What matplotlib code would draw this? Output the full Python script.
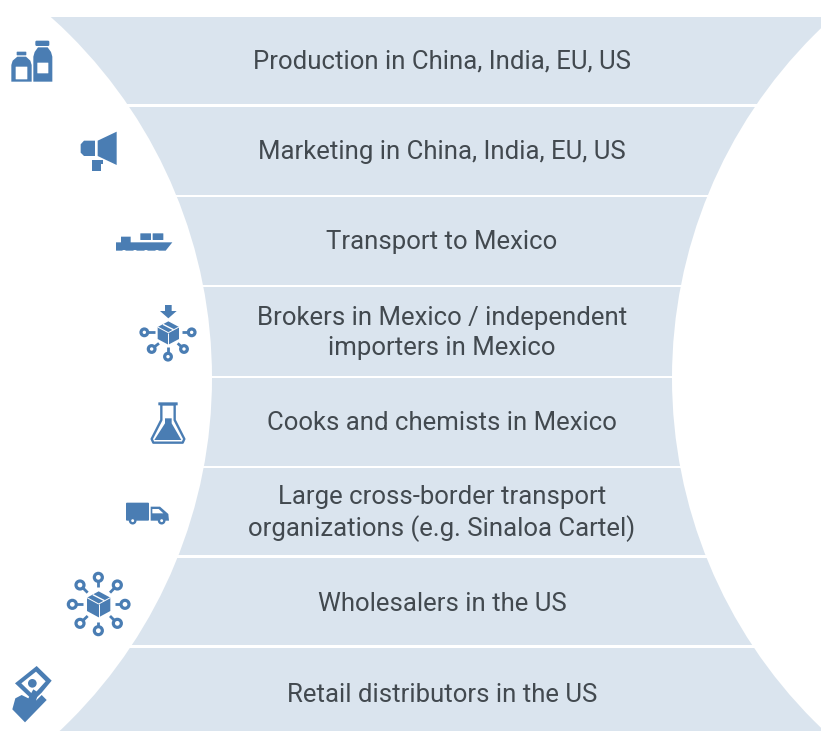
import matplotlib
matplotlib.use("Agg")
import matplotlib.pyplot as plt
from matplotlib.patches import Circle, Polygon, FancyBboxPatch
from matplotlib.transforms import Affine2D

# ---- chart content ----
labels = ["Production in China, India, EU, US",
          "Marketing in China, India, EU, US",
          "Transport to Mexico",
          "Brokers in Mexico / independent\nimporters in Mexico",
          "Cooks and chemists in Mexico",
          "Large cross-border transport\norganizations (e.g. Sinaloa Cartel)",
          "Wholesalers in the US",
          "Retail distributors in the US"]
band_tops = [17, 107, 197, 287, 378, 468, 558, 648]
band_bottoms = [104, 195, 285, 376, 466, 555, 645, 731]
label_y = [61.5, 151.5, 242.5, 333, 423, 513.5, 604, 694.5]

BAND = "#dae4ee"
ICON = "#4a7db3"
TEXT = "#42494f"
W, H = 821, 731

fig = plt.figure(figsize=(W / 100, H / 100), dpi=100, facecolor="white")
ax = fig.add_axes([0, 0, 1, 1])
ax.set_xlim(0, W)
ax.set_ylim(H, 0)
ax.axis("off")

heights = [b - t for t, b in zip(band_tops, band_bottoms)]
ax.barh(band_tops, [W] * len(band_tops), height=heights, left=0, align="edge",
        color=BAND, linewidth=0, zorder=1)

# the funnel waist: white circles cut the bands on both sides
R, WAIST_L, WAIST_R, WAIST_Y = 485, 212, 672, 378
ax.add_patch(Circle((WAIST_L - R, WAIST_Y), R, fc="white", ec="none", zorder=2))
ax.add_patch(Circle((WAIST_R + R, WAIST_Y), R, fc="white", ec="none", zorder=2))

for y, s in zip(label_y, labels):
    ax.text(442, y, s, ha="center", va="center", family="Roboto", fontsize=18.5,
            color=TEXT, zorder=5, linespacing=1.3)

# ---- icons, in 3x crop coordinates ----
def tr(oy):
    return Affine2D().scale(1 / 3).translate(0, oy) + ax.transData

def poly(pts, oy, fc=ICON, z=3, ec="none", lw=0):
    ax.add_patch(Polygon(pts, closed=True, fc=fc, ec=ec, lw=lw, zorder=z, joinstyle="round",
                         transform=tr(oy)))

def rect(x0, y0, x1, y1, oy, fc=ICON, z=3, r=3):
    ax.add_patch(FancyBboxPatch((x0 + r, y0 + r), x1 - x0 - 2 * r, y1 - y0 - 2 * r,
                                boxstyle=f"round,pad={r}", fc=fc, ec="none", zorder=z,
                                transform=tr(oy)))

def ring(x, y, r, oy, fc="white", lw=2.3, z=3):
    ax.add_patch(Circle((x, y), r, fc=fc, ec=ICON, lw=lw, zorder=z, transform=tr(oy)))

def seg(x0, y0, x1, y1, oy, lw=2.0, color=ICON, z=3):
    ax.plot([x0, x1], [y0, y1], color=color, lw=lw, zorder=z, transform=tr(oy),
            solid_capstyle="butt")

def cube(cx, cy, oy, w=34, h=40):
    poly([(cx, cy - h), (cx + w, cy - h / 2 - 1), (cx + w, cy + h / 2 - 1), (cx, cy + h - 2),
          (cx - w, cy + h / 2 - 1), (cx - w, cy - h / 2 - 1)], oy)
    seg(cx - w, cy - h / 2 - 1, cx, cy - 2, oy, lw=0.7, color="white", z=4)
    seg(cx, cy - 2, cx + w, cy - h / 2 - 1, oy, lw=0.7, color="white", z=4)
    seg(cx, cy - 2, cx, cy + h - 2, oy, lw=0.7, color="white", z=4)
    seg(cx - w * .5, cy - h * .75, cx + w * .5, cy - h * .3, oy, lw=1.0, color="white", z=4)

# bottles
o = 10
poly([(34, 165), (38, 152), (52, 140), (78, 140), (91, 152), (95, 165), (95, 215), (34, 215)], o)
rect(50, 125, 79, 136, o, r=2)
poly([(100, 140), (104, 126), (114, 112), (143, 112), (153, 126), (157, 140), (157, 215), (100, 215)], o)
rect(106, 92, 148, 108, o, r=4)
rect(47, 170, 82, 208, o, fc="white", r=1)
rect(112, 158, 145, 190, o, fc="white", r=1)
# megaphone
poly([(242, 403), (252, 392), (285, 392), (285, 438), (252, 438), (242, 428)], o)
poly([(293, 392), (350, 365), (350, 465), (293, 438)], o)
poly([(275, 450), (308, 450), (308, 462), (303, 462), (303, 483), (275, 483)], o)
# ship
poly([(348, 697), (363, 697), (363, 680), (392, 680), (392, 697), (517, 697), (497, 722), (348, 722)], o)
rect(421, 670, 453, 690, o, r=1)
rect(458, 670, 490, 690, o, r=1)
for cx in (372, 405, 438, 471):
    ax.add_patch(Circle((cx, 727), 7, fc="white", ec="none", zorder=4, transform=tr(o)))
# brokers
poly([(495, 885), (515, 885), (515, 903), (530, 903), (505, 925), (480, 903), (495, 903)], o)
cube(505, 970, o, w=32, h=36)
for nx, ny, x0, y0 in [(433, 967, 465, 967), (575, 967, 545, 967), (455, 1017, 477, 1000),
                       (552, 1017, 533, 1000), (504, 1040, 504, 1012)]:
    seg(nx, ny, x0, y0, o)
    ring(nx, ny, 10, o)
# flask
o = 370
poly([(484, 103), (484, 150), (455, 207), (460, 218), (548, 218), (553, 207), (524, 150), (524, 103)],
     o, fc="white", ec=ICON, lw=1.7)
rect(475, 97, 533, 106, o, r=1)
poly([(495, 145), (515, 145), (515, 160), (544, 210), (463, 210), (495, 160)], o, z=4)
# truck
rect(378, 398, 447, 452, o, r=3)
poly([(452, 410), (480, 410), (505, 432), (507, 452), (452, 452)], o)
poly([(457, 417), (476, 417), (490, 430), (457, 430)], o, fc="white", z=4)
ring(398, 452, 8, o, lw=1.7, z=4)
ring(485, 452, 8, o, lw=1.7, z=4)
# wholesalers
cube(296, 704, o, w=35, h=40)
for nx, ny, x0, y0 in [(295, 622, 295, 652), (240, 645, 263, 668), (352, 645, 330, 668),
                       (217, 703, 248, 703), (375, 703, 345, 703), (240, 760, 263, 738),
                       (352, 760, 330, 738), (295, 782, 295, 755)]:
    seg(nx, ny, x0, y0, o)
    ring(nx, ny, 12, o)
# hand with banknote
poly([(110, 888), (155, 932), (125, 968), (100, 992), (45, 940)], o)
poly([(108, 905), (137, 934), (100, 975), (64, 940)], o, fc="white", z=4)
ax.add_patch(Circle((97, 940), 13, fc=ICON, ec="none", zorder=5, transform=tr(o)))
poly([(37, 1018), (46, 985), (65, 975), (85, 985), (100, 958), (115, 968), (108, 992), (125, 975),
      (140, 990), (75, 1057)], o, z=6)

fig.savefig("out.png", dpi=100, facecolor="white")
